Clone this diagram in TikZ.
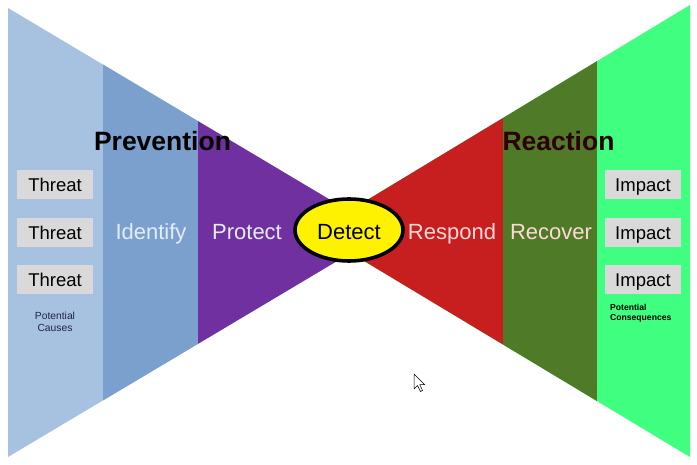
\documentclass[tikz,border=0pt]{standalone}
\usepackage{fontspec}
\setmainfont{Liberation Sans}
\usetikzlibrary{shapes.geometric}

\definecolor{causeblue}{HTML}{A7C2E0}
\definecolor{identblue}{HTML}{7BA0CD}
\definecolor{protectpurple}{HTML}{7030A0}
\definecolor{respondred}{HTML}{C71E1F}
\definecolor{recovergreen}{HTML}{4F7A28}
\definecolor{impactgreen}{HTML}{40FF80}
\definecolor{boxgray}{HTML}{D9D9D9}
\definecolor{coolwhite}{HTML}{E4ECF8}
\definecolor{pinkwhite}{HTML}{FFD8D8}
\definecolor{causenavy}{HTML}{22224A}
\definecolor{darkmaroon}{HTML}{2E0000}

\begin{document}
\begin{tikzpicture}[x=1pt,y=-1pt,
  every node/.style={inner sep=0pt,text depth=0pt},
  boxlabel/.style={fill=boxgray,minimum width=76pt,minimum height=29pt,
    text height=13.2pt,font=\fontsize{18.5}{20}\selectfont},
  stagelabel/.style={text height=15.8pt,font=\fontsize{22}{24}\selectfont},
  phaselabel/.style={text height=18.9pt,font=\bfseries\fontsize{26.5}{28}\selectfont}]
  \useasboundingbox (0,0) rectangle (697,465);

  % reaction side
  \begin{scope}
    \clip (690,5) -- (690,457) -- (315,231.5) -- cycle;
    \fill[impactgreen] (300,0) rectangle (697,465);
    \fill[recovergreen] (503,0) rectangle (597,465);
    \fill[respondred] (300,0) rectangle (503,465);
  \end{scope}

  % prevention side
  \begin{scope}
    \clip (8,8) -- (8,457) -- (385,232.5) -- cycle;
    \fill[causeblue] (0,0) rectangle (400,465);
    \fill[identblue] (103,0) rectangle (198,465);
    \fill[protectpurple] (198,0) rectangle (400,465);
  \end{scope}

  \node[phaselabel] (prevention) at (162.5,141.5) {Prevention};
  \node[phaselabel,text=darkmaroon] (reaction) at (558.5,141.5) {Reaction};

  \node[boxlabel] (threat1) at (55,185) {Threat};
  \node[boxlabel] (threat2) at (55,232.5) {Threat};
  \node[boxlabel] (threat3) at (55,280) {Threat};
  \node[align=center,anchor=base,text=causenavy,text depth=,
    font=\fontsize{10.3}{11.7}\selectfont] (causes) at (55,331.7) {Potential\\Causes};

  \node[boxlabel] (impact1) at (643,185) {Impact};
  \node[boxlabel] (impact2) at (643,232.5) {Impact};
  \node[boxlabel] (impact3) at (643,279.5) {Impact};
  \node[align=left,anchor=base west,text depth=,
    font=\bfseries\fontsize{8.6}{10.3}\selectfont] (consequences) at (610,321) {Potential\\Consequences};

  \node[stagelabel,text=coolwhite] (identify) at (151,232) {Identify};
  \node[stagelabel,text=coolwhite] (protect) at (247,232) {Protect};
  \node[ellipse,draw,line width=3.6pt,fill=yellow,minimum width=108pt,minimum height=62pt,
    text height=19.8pt,font=\fontsize{22}{24}\selectfont] (detect) at (349,230) {Detect};
  \node[stagelabel,text=pinkwhite] (respond) at (452,232) {Respond};
  \node[stagelabel,text=pinkwhite] (recover) at (551,232) {Recover};

  % mouse pointer
  \draw[fill=white,line width=0.5pt,line join=miter]
    (414,374) -- (414,389) -- (417.5,385.5) -- (420.5,391.5) -- (422.5,390.5)
    -- (419.8,384.6) -- (424.5,384.6) -- cycle;
\end{tikzpicture}
\end{document}
